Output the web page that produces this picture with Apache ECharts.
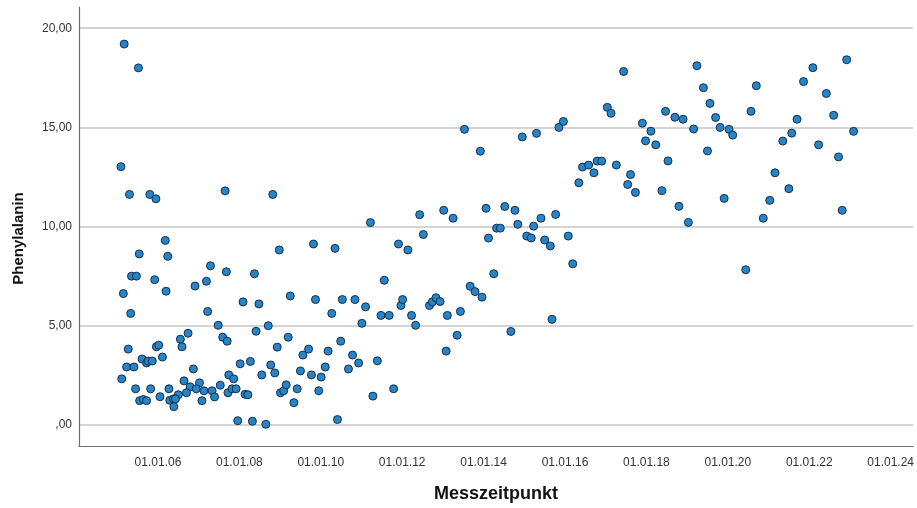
<!DOCTYPE html>
<html>
<head>
<meta charset="utf-8">
<script src="https://cdn.jsdelivr.net/npm/echarts@6/dist/echarts.min.js"></script>
<style>
  html, body { margin: 0; padding: 0; background: #fff; }
  #chart { width: 917px; height: 508px; }
</style>
</head>
<body>
<div id="chart"></div>
<script>
// Measurement date as decimal year
const measureYears = [
  2005.17, 2005.52, 2005.09, 2005.30, 2005.80, 2005.95, 2007.65, 2008.82, 2006.18, 2005.54,
  2006.24, 2008.98, 2009.82, 2010.35, 2005.35, 2005.47, 2005.92, 2007.29, 2007.68, 2008.37,
  2007.19, 2006.91, 2005.15, 2006.20, 2009.25, 2008.09, 2008.48, 2009.87, 2010.53, 2010.84,
  2005.33, 2007.22, 2010.27, 2007.48, 2008.71, 2008.41, 2009.20, 2010.49, 2006.74, 2006.55,
  2006.59, 2007.59, 2007.70, 2005.27, 2005.96, 2006.02, 2006.11, 2008.93, 2009.70, 2009.56,
  2010.18, 2010.78, 2010.93, 2005.61, 2005.72, 2005.76, 2005.86, 2005.23, 2005.41, 2005.11,
  2006.87, 2008.02, 2008.27, 2008.77, 2008.87, 2008.55, 2009.50, 2009.77, 2010.11, 2010.01,
  2010.68, 2007.74, 2007.86, 2006.64, 2007.02, 2006.79, 2006.94, 2007.13, 2007.33, 2007.53,
  2007.39, 2007.08, 2006.70, 2006.50, 2006.27, 2005.82, 2005.45, 2006.05, 2005.55, 2005.64,
  2005.72, 2006.29, 2006.38, 2006.43, 2006.39, 2007.72, 2007.82, 2007.92, 2008.14, 2008.21,
  2009.01, 2009.09, 2009.15, 2009.42, 2009.34, 2009.95, 2007.96, 2008.32, 2008.65, 2010.41,
  2011.22, 2011.91, 2012.14, 2012.43, 2012.52, 2013.02, 2013.25, 2013.53, 2013.92, 2014.06,
  2014.12, 2014.32, 2014.41, 2014.52, 2014.77, 2014.84, 2014.95, 2015.06, 2015.17, 2015.23,
  2015.30, 2015.41, 2015.50, 2015.64, 2015.77, 2015.85, 2015.96, 2016.08, 2016.34, 2016.43,
  2016.58, 2016.71, 2016.79, 2016.90, 2017.04, 2017.13, 2017.26, 2016.19, 2011.56, 2013.67,
  2013.79, 2013.96, 2014.25, 2011.01, 2011.10, 2011.48, 2011.68, 2011.97, 2012.01, 2012.23,
  2012.33, 2012.67, 2012.74, 2012.83, 2012.93, 2013.11, 2013.43, 2013.35, 2013.08, 2014.67,
  2015.68, 2011.39, 2011.28, 2011.79, 2017.44, 2019.24, 2019.40, 2019.56, 2019.70, 2019.81,
  2020.03, 2020.12, 2019.16, 2019.50, 2018.47, 2018.70, 2018.90, 2017.90, 2018.11, 2017.98,
  2018.23, 2018.53, 2017.61, 2017.54, 2017.73, 2018.38, 2018.80, 2019.03, 2019.91, 2020.44,
  2020.57, 2020.70, 2020.87, 2021.03, 2021.16, 2021.35, 2021.57, 2021.50, 2021.70, 2021.86,
  2022.09, 2022.42, 2022.60, 2022.23, 2022.72, 2022.81, 2022.92, 2023.09
];

// Phenylalanin value for each measurement
const phenylalanin = [
  19.20, 18.00, 13.02, 11.62, 11.62, 11.40, 11.80, 11.62, 9.30, 8.62,
  8.50, 8.82, 9.12, 8.90, 7.50, 7.50, 7.32, 8.02, 7.72, 7.62,
  7.24, 7.00, 6.62, 6.74, 6.50, 6.20, 6.10, 6.32, 6.32, 6.32,
  5.62, 5.72, 5.62, 5.02, 5.00, 4.72, 4.42, 4.22, 4.62, 4.32,
  3.94, 4.42, 4.22, 3.82, 3.94, 4.02, 3.42, 3.92, 3.82, 3.52,
  3.72, 3.52, 3.12, 3.32, 3.12, 3.22, 3.22, 2.92, 2.92, 2.32,
  2.82, 3.08, 3.20, 3.02, 2.62, 2.52, 2.72, 2.52, 2.92, 2.41,
  2.82, 2.52, 2.32, 2.22, 2.12, 1.92, 1.82, 1.72, 1.72, 2.00,
  1.41, 1.22, 1.62, 1.52, 1.82, 1.82, 1.82, 1.42, 1.22, 1.28,
  1.22, 1.24, 1.31, 1.31, 0.92, 1.62, 1.82, 1.82, 1.54, 1.52,
  1.62, 1.72, 2.02, 1.82, 1.12, 1.72, 0.21, 0.18, 0.03, 0.27,
  10.20, 9.12, 8.82, 10.60, 9.60, 10.82, 10.42, 14.90, 13.80, 10.92,
  9.42, 9.92, 9.92, 11.01, 10.82, 10.11, 14.52, 9.52, 9.42, 10.02,
  14.70, 10.42, 9.32, 9.02, 10.61, 15.00, 15.30, 9.52, 12.21, 13.00,
  13.10, 12.71, 13.30, 13.30, 16.01, 15.71, 13.10, 8.12, 7.29, 6.99,
  6.72, 6.44, 7.62, 5.12, 5.95, 5.52, 5.52, 6.02, 6.32, 5.52,
  5.02, 6.02, 6.20, 6.41, 6.22, 5.52, 5.72, 4.52, 3.72, 4.71,
  5.32, 3.23, 1.45, 1.82, 17.82, 18.11, 17.00, 16.21, 15.50, 15.00,
  14.90, 14.61, 14.92, 13.81, 15.81, 15.51, 15.41, 15.21, 14.81, 14.32,
  14.12, 13.31, 12.62, 12.12, 11.72, 11.81, 11.02, 10.21, 11.42, 7.82,
  15.81, 17.10, 10.42, 11.32, 12.71, 14.31, 14.71, 11.91, 15.41, 17.31,
  18.01, 16.71, 15.61, 14.12, 13.51, 10.82, 18.41, 14.80
];

// Tick positions (1 January of every second year) and value ticks
const yearTicks = [2006, 2008, 2010, 2012, 2014, 2016, 2018, 2020, 2022, 2024];
const valueTicks = [0, 5, 10, 15, 20];

const xTitle = 'Messzeitpunkt';
const yTitle = 'Phenylalanin';

const points = measureYears.map((yr, i) => [yr, phenylalanin[i]]);

const fontFamily = '"Liberation Sans", Arial, sans-serif';

const chart = echarts.init(document.getElementById('chart'), null, { renderer: 'canvas' });

chart.setOption({
  animation: false,
  backgroundColor: '#ffffff',
  grid: { left: 79, right: 0, top: 7, bottom: 58, containLabel: false },
  xAxis: {
    type: 'value',
    min: 2004.06,
    max: 2024.55,
    name: xTitle,
    nameLocation: 'middle',
    nameGap: 39,
    nameTextStyle: { fontFamily, fontSize: 18, fontWeight: 'bold', color: '#111' },
    axisLine: { show: true, onZero: false, lineStyle: { color: '#6e6e6e', width: 1.2 } },
    axisTick: { show: false, customValues: yearTicks },
    axisLabel: {
      customValues: yearTicks,
      margin: 11,
      fontFamily, fontSize: 12, color: '#333',
      formatter: v => '01.01.' + String(Math.round(v)).slice(2)
    },
    splitLine: { show: false }
  },
  yAxis: {
    type: 'value',
    min: -1.065,
    max: 21.07,
    name: yTitle,
    nameLocation: 'middle',
    nameGap: 53,
    nameRotate: 90,
    nameTextStyle: {
      fontFamily, fontSize: 15, fontWeight: 'bold', color: '#111',
      padding: [0, 24, 0, 0]
    },
    axisLine: { show: true, onZero: false, lineStyle: { color: '#6e6e6e', width: 1.2 } },
    axisTick: { show: false, customValues: valueTicks },
    axisLabel: {
      customValues: valueTicks,
      margin: 7,
      fontFamily, fontSize: 12, color: '#333',
      formatter: v => (v === 0 ? ',00' : v.toFixed(2).replace('.', ','))
    },
    splitLine: { show: true, lineStyle: { color: '#c6c6c6', width: 1.5 } }
  },
  series: [{
    type: 'scatter',
    data: points,
    symbol: 'circle',
    symbolSize: 8,
    itemStyle: { color: '#2784c6', borderColor: '#13304d', borderWidth: 1, opacity: 1 },
    emphasis: { disabled: true }
  }]
});
</script>
</body>
</html>
